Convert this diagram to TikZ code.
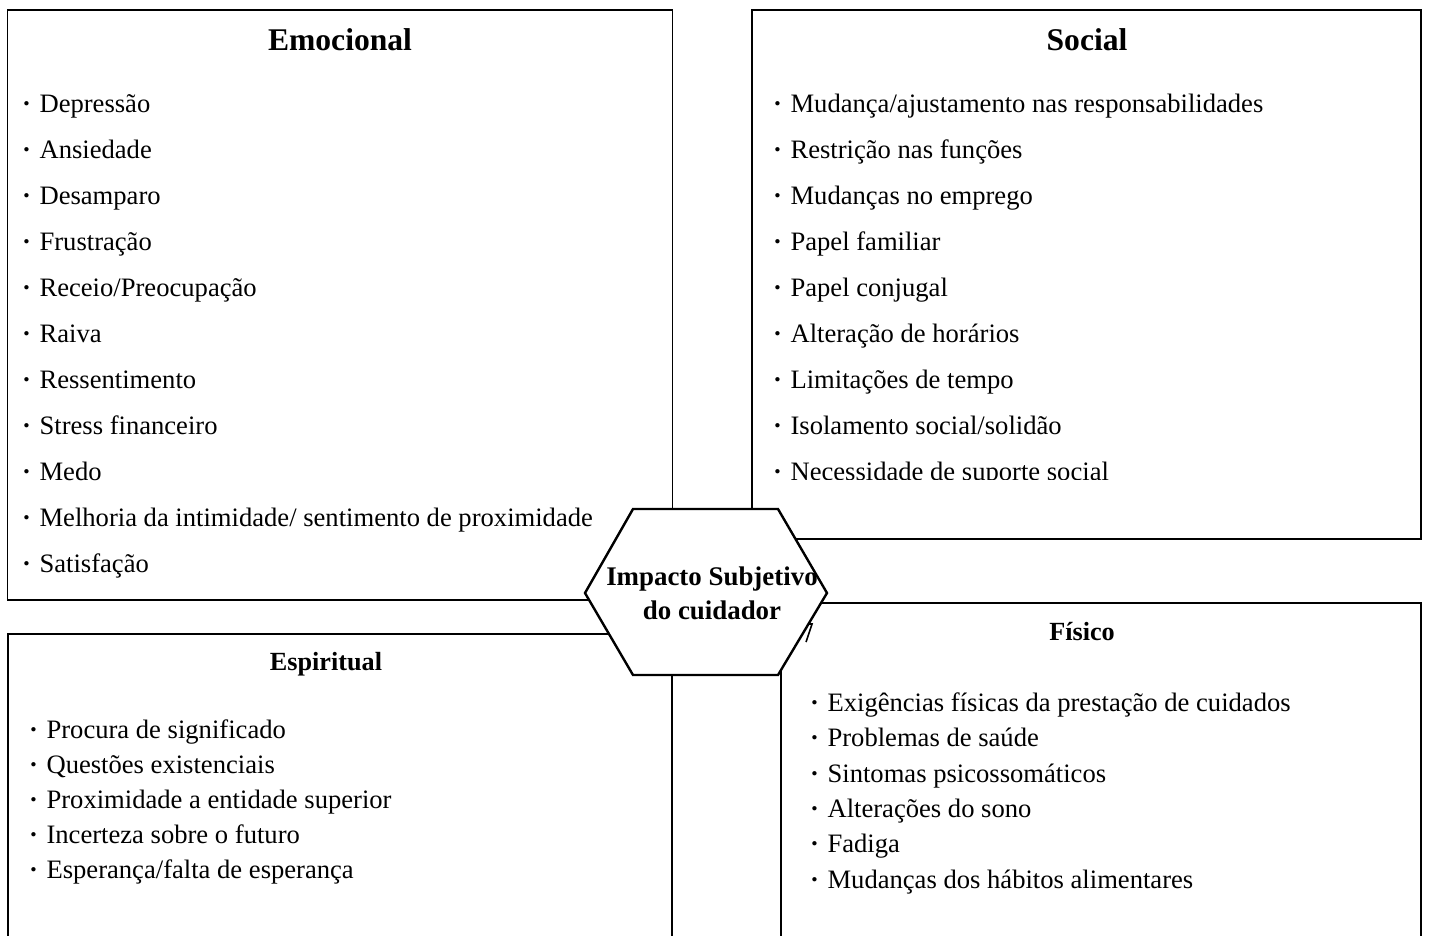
\documentclass[tikz,border=0pt]{standalone}
\usepackage{fontspec}
\setmainfont{Liberation Serif}
\newcommand{\bul}{\textbf{·}\hspace{8.5pt}}
\tikzset{
  listitem/.style={anchor=base west, inner sep=0pt, font=\fontsize{26.6}{30}\selectfont},
  bigtitle/.style={anchor=base, inner sep=0pt, font=\bfseries\fontsize{31.6}{36}\selectfont},
  smalltitle/.style={anchor=base, inner sep=0pt, font=\bfseries\fontsize{26.2}{30}\selectfont},
}

\begin{document}
\begin{tikzpicture}[x=1pt, y=-1pt]

\clip (0,0) rectangle (1429,935);

\draw[line width=1.2pt] (7.5,10) rectangle (672.5,600);
\draw[line width=1.2pt] (752,10) rectangle (1421,539);
\draw[line width=1.2pt] (8,634) rectangle (672,950);
\draw[line width=1.2pt] (781,603) rectangle (1421,950);

\draw (340,50) node[bigtitle] (emotitle) {Emocional};
\draw (22,112) node[listitem] (emo1) {\bul Depressão};
\draw (22,158) node[listitem] (emo2) {\bul Ansiedade};
\draw (22,204) node[listitem] (emo3) {\bul Desamparo};
\draw (22,250) node[listitem] (emo4) {\bul Frustração};
\draw (22,296) node[listitem] (emo5) {\bul Receio/Preocupação};
\draw (22,342) node[listitem] (emo6) {\bul Raiva};
\draw (22,388) node[listitem] (emo7) {\bul Ressentimento};
\draw (22,434) node[listitem] (emo8) {\bul Stress financeiro};
\draw (22,480) node[listitem] (emo9) {\bul Medo};
\draw (22,526) node[listitem] (emo10) {\bul Melhoria da intimidade/ sentimento de proximidade};
\draw (22,572) node[listitem] (emo11) {\bul Satisfação};

\draw (1087,50) node[bigtitle] (soctitle) {Social};
\draw (773,112) node[listitem] (soc1) {\bul Mudança/ajustamento nas responsabilidades};
\draw (773,158) node[listitem] (soc2) {\bul Restrição nas funções};
\draw (773,204) node[listitem] (soc3) {\bul Mudanças no emprego};
\draw (773,250) node[listitem] (soc4) {\bul Papel familiar};
\draw (773,296) node[listitem] (soc5) {\bul Papel conjugal};
\draw (773,342) node[listitem] (soc6) {\bul Alteração de horários};
\draw (773,388) node[listitem] (soc7) {\bul Limitações de tempo};
\draw (773,434) node[listitem] (soc8) {\bul Isolamento social/solidão};
\begin{scope}
\clip (752,10) rectangle (1421,479);
\draw (773,480) node[listitem] (soc9) {\bul Necessidade de suporte social};
\end{scope}

\draw (326,670) node[smalltitle] (esptitle) {Espiritual};
\draw (29,738) node[listitem] (esp1) {\bul Procura de significado};
\draw (29,773) node[listitem] (esp2) {\bul Questões existenciais};
\draw (29,808) node[listitem] (esp3) {\bul Proximidade a entidade superior};
\draw (29,843) node[listitem] (esp4) {\bul Incerteza sobre o futuro};
\draw (29,878) node[listitem] (esp5) {\bul Esperança/falta de esperança};

\draw (1082,640) node[smalltitle] (fistitle) {Físico};
\draw (810,711) node[listitem] (fis1) {\bul Exigências físicas da prestação de cuidados};
\draw (810,746) node[listitem] (fis2) {\bul Problemas de saúde};
\draw (810,782) node[listitem] (fis3) {\bul Sintomas psicossomáticos};
\draw (810,817) node[listitem] (fis4) {\bul Alterações do sono};
\draw (810,852) node[listitem] (fis5) {\bul Fadiga};
\draw (810,888) node[listitem] (fis6) {\bul Mudanças dos hábitos alimentares};

\draw[line width=2.4pt, fill=white, line join=miter] (633,509) -- (778,509) -- (827,593) -- (778,675) -- (633,675) -- (585,593) -- cycle;
\draw (712,593) node[align=center, inner sep=0pt, font=\bfseries\fontsize{26.9}{34}\selectfont] (impacto) {Impacto Subjetivo\\do cuidador};
\draw[line width=1.6pt] (809,624) -- (812,624) -- (806,642);

\end{tikzpicture}
\end{document}
